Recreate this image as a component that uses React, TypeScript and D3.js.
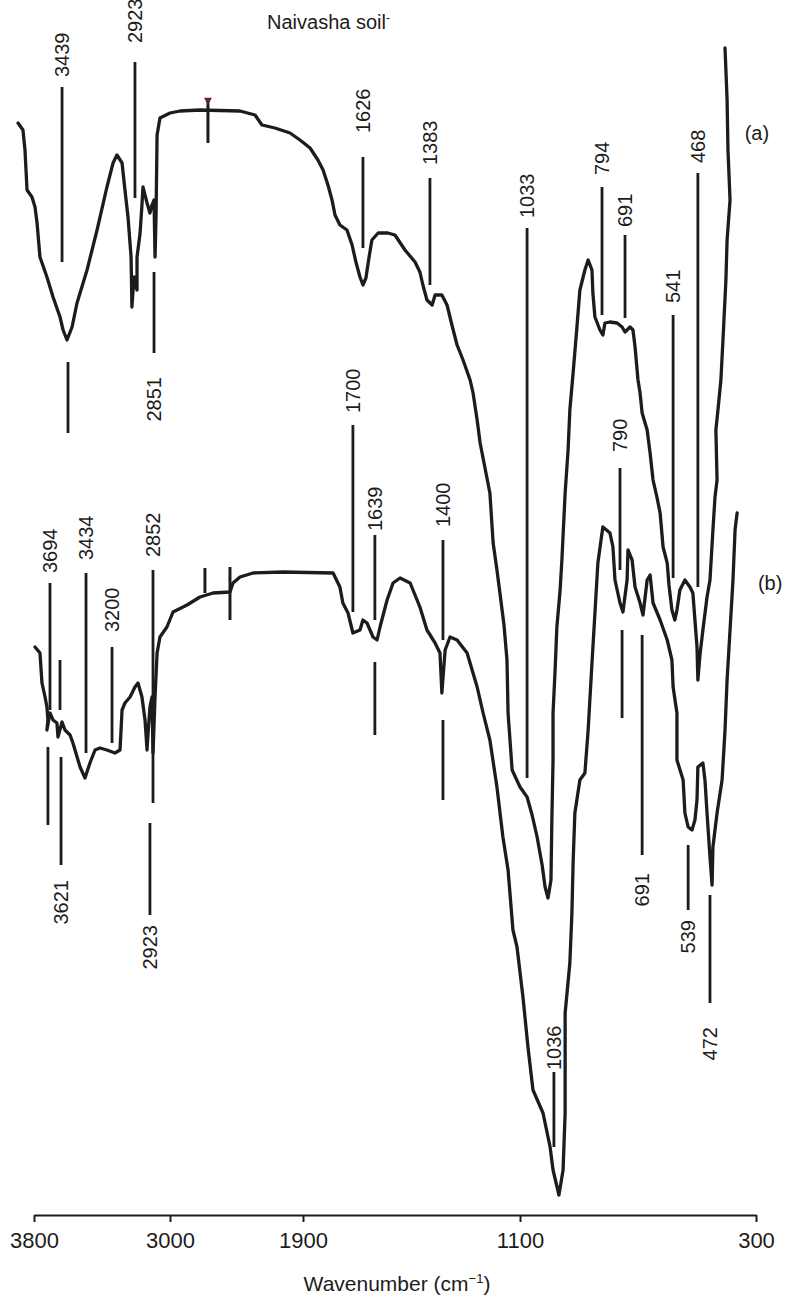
import React, { useEffect, useRef } from 'react';
import * as d3 from 'd3';

type Pt = [number, number];
type Marker = { wn: number; from: number; to: number; label?: string; text?: number };

// wavenumber ticks printed on the axis (the printed scale is uneven)
const wnTicks = [3800, 3000, 1900, 1100, 300];

// trace (a): [wavenumber on the axis, relative transmittance]
const traceA: Pt[] = [
  [3894, 109.2], [3865, 108.5], [3853, 106.5], [3841, 102.5], [3812, 101.8], [3794, 100.8],
  [3782, 99.2], [3765, 95.8], [3724, 93.8], [3688, 91.8], [3647, 89.8], [3629, 88.5],
  [3606, 87.5], [3576, 88.8], [3547, 91.2], [3488, 94.5], [3429, 98.5], [3371, 102.8],
  [3335, 105.2], [3312, 106.0], [3282, 105.2], [3265, 102.5], [3247, 99.8], [3229, 95.8],
  [3224, 90.8], [3212, 93.8], [3194, 92.5], [3194, 95.8], [3176, 98.2], [3165, 101.0],
  [3159, 102.8], [3147, 102.0], [3135, 101.2], [3118, 100.2], [3106, 101.0], [3094, 101.5],
  [3088, 95.8], [3082, 100.0], [3076, 108.0], [3059, 109.7], [3000, 110.2], [2917, 110.4],
  [2752, 110.5], [2421, 110.4], [2297, 110.0], [2239, 109.0], [2132, 108.7], [2007, 108.2],
  [1925, 107.5], [1874, 106.7], [1845, 105.5], [1826, 104.5], [1808, 103.0], [1793, 101.5],
  [1782, 100.0], [1764, 99.0], [1738, 98.5], [1719, 97.0], [1705, 95.3], [1690, 93.8],
  [1679, 93.0], [1668, 93.7], [1657, 95.7], [1646, 97.5], [1623, 98.2], [1587, 98.2],
  [1561, 98.0], [1524, 96.5], [1487, 95.3], [1469, 94.3], [1458, 93.0], [1443, 91.5],
  [1424, 91.0], [1413, 92.0], [1388, 92.0], [1369, 91.0], [1351, 89.0], [1332, 87.0],
  [1310, 85.5], [1284, 83.5], [1273, 82.2], [1258, 79.5], [1247, 77.2], [1229, 74.7],
  [1211, 72.2], [1199, 67.2], [1185, 64.5], [1174, 62.2], [1159, 59.0], [1148, 55.5],
  [1144, 50.2], [1129, 44.5], [1100, 42.8], [1076, 41.8], [1059, 40.0], [1042, 37.8],
  [1025, 35.0], [1015, 32.8], [1005, 31.7], [995, 33.5], [992, 39.5], [988, 45.5],
  [988, 50.2], [981, 54.5], [975, 58.8], [964, 62.5], [958, 65.5], [947, 72.2],
  [937, 76.5], [931, 80.5], [920, 84.2], [907, 88.8], [897, 92.5], [880, 94.5],
  [869, 95.5], [856, 94.5], [853, 92.2], [846, 89.8], [829, 88.5], [819, 88.0],
  [812, 89.2], [795, 89.3], [771, 89.2], [754, 88.8], [744, 88.3], [727, 88.8],
  [717, 88.5], [710, 86.8], [700, 83.5], [693, 82.2], [686, 80.2], [669, 78.5],
  [659, 76.2], [649, 73.5], [636, 71.8], [625, 70.2], [615, 66.8], [601, 65.2],
  [595, 63.0], [585, 60.5], [575, 59.5], [568, 60.5], [558, 62.5], [541, 63.5],
  [524, 62.8], [514, 62.2], [507, 59.5], [500, 56.8], [497, 53.5], [490, 56.0],
  [480, 58.5], [466, 61.8], [456, 63.5], [446, 68.5], [439, 71.8], [432, 73.5],
  [436, 78.5], [429, 80.5], [419, 83.5], [412, 87.5], [402, 93.5], [398, 97.5],
  [388, 101.5], [395, 106.5], [398, 111.5], [405, 116.7],
];

// trace (b)
const traceB: Pt[] = [
  [3794, 56.8], [3765, 56.2], [3753, 53.2], [3735, 51.8], [3724, 50.8], [3718, 49.5],
  [3724, 48.5], [3706, 50.2], [3688, 49.5], [3665, 49.2], [3659, 47.8], [3635, 49.3],
  [3618, 48.5], [3588, 48.0], [3571, 47.2], [3529, 44.8], [3500, 43.7], [3471, 45.2],
  [3441, 46.5], [3412, 46.7], [3371, 46.5], [3324, 46.2], [3294, 46.5], [3282, 50.5],
  [3265, 51.2], [3235, 51.8], [3206, 52.8], [3188, 53.2], [3165, 51.8], [3147, 49.5],
  [3135, 46.5], [3129, 48.2], [3118, 50.8], [3106, 51.8], [3100, 46.2], [3088, 51.8],
  [3076, 56.2], [3059, 57.8], [3018, 58.8], [2975, 60.3], [2859, 61.0], [2752, 61.8],
  [2644, 62.2], [2504, 62.3], [2479, 63.2], [2421, 63.8], [2313, 64.2], [2065, 64.3],
  [1789, 64.2], [1764, 62.8], [1753, 61.2], [1734, 60.2], [1716, 58.2], [1690, 58.5],
  [1679, 59.5], [1664, 59.2], [1642, 57.8], [1627, 57.5], [1616, 58.8], [1590, 61.5],
  [1568, 63.2], [1542, 63.7], [1505, 63.2], [1469, 60.8], [1443, 58.5], [1413, 57.2],
  [1395, 56.2], [1388, 52.2], [1376, 56.5], [1358, 57.8], [1332, 57.5], [1295, 56.2],
  [1258, 52.8], [1236, 50.2], [1211, 47.5], [1185, 42.8], [1163, 37.8], [1144, 34.5],
  [1126, 28.5], [1111, 26.8], [1090, 21.8], [1073, 16.8], [1056, 12.5], [1022, 10.2],
  [998, 6.8], [988, 4.5], [968, 2.0], [954, 4.5], [947, 10.2], [947, 20.2],
  [931, 25.2], [924, 30.2], [920, 35.2], [914, 40.2], [897, 43.5], [880, 44.2],
  [869, 48.5], [856, 55.2], [846, 60.2], [836, 65.2], [822, 68.2], [819, 68.8],
  [795, 68.2], [785, 66.8], [778, 63.5], [761, 61.2], [751, 60.3], [737, 63.5],
  [734, 66.5], [720, 65.5], [710, 62.8], [693, 61.2], [683, 60.0], [669, 63.5],
  [659, 64.0], [649, 61.2], [625, 59.5], [601, 57.5], [585, 55.5], [581, 52.8],
  [568, 50.2], [568, 45.5], [547, 43.5], [541, 40.2], [530, 38.8], [517, 38.5],
  [507, 39.5], [500, 41.5], [497, 44.8], [480, 45.2], [473, 43.5], [466, 40.2],
  [456, 35.8], [449, 33.0], [446, 36.8], [432, 40.2], [415, 43.5], [405, 48.5],
  [398, 53.5], [388, 58.5], [378, 63.5], [371, 68.5], [364, 70.2],
];

// peak markers: bar from/to (transmittance), label end at `text`
const markersA: Marker[] = [
  { label: '3439', wn: 3635, from: 95.3, to: 112.8, text: 113.8 },
  { wn: 3600, from: 78.2, to: 85.3 },
  { label: '2923', wn: 3206, from: 101.7, to: 115.3, text: 117.2 },
  { label: '2851', wn: 3094, from: 86.2, to: 94.3, text: 83.8 },
  { label: '1626', wn: 1679, from: 96.7, to: 105.8, text: 108.2 },
  { label: '1383', wn: 1432, from: 93.0, to: 103.7, text: 105.0 },
  { label: '1033', wn: 1076, from: 43.7, to: 98.7, text: 99.7 },
  { label: '794', wn: 822, from: 90.0, to: 102.8, text: 104.0 },
  { label: '691', wn: 744, from: 89.7, to: 98.0, text: 98.8 },
  { label: '541', wn: 581, from: 63.7, to: 90.0, text: 91.2 },
  { label: '468', wn: 497, from: 62.8, to: 104.2, text: 105.2 },
];

const markersB: Marker[] = [
  { label: '3694', wn: 3706, from: 50.5, to: 63.2, text: 64.2 },
  { wn: 3718, from: 39.0, to: 46.8 },
  { wn: 3647, from: 50.5, to: 55.5 },
  { label: '3621', wn: 3641, from: 35.0, to: 45.8, text: 33.5 },
  { label: '3434', wn: 3494, from: 46.2, to: 64.2, text: 65.5 },
  { label: '3200', wn: 3341, from: 47.2, to: 56.8, text: 58.3 },
  { label: '2852', wn: 3100, from: 41.2, to: 64.5, text: 65.8 },
  { label: '2923', wn: 3118, from: 30.0, to: 39.2, text: 29.0 },
  { label: '1700', wn: 1716, from: 60.3, to: 79.0, text: 80.2 },
  { label: '1639', wn: 1635, from: 59.5, to: 68.0, text: 68.4 },
  { wn: 1635, from: 48.0, to: 55.3 },
  { label: '1400', wn: 1384, from: 57.5, to: 67.5, text: 68.8 },
  { wn: 1384, from: 41.5, to: 49.5 },
  { label: '1036', wn: 985, from: 6.8, to: 14.3, text: 14.5 },
  { label: '790', wn: 761, from: 64.5, to: 74.7, text: 76.3 },
  { wn: 754, from: 49.7, to: 58.5 },
  { label: '691', wn: 686, from: 36.0, to: 58.0, text: 34.2 },
  { label: '539', wn: 530, from: 30.5, to: 37.0, text: 29.5 },
  { label: '472', wn: 456, from: 21.2, to: 32.0, text: 18.8 },
];

// small recorder pen marks on the traces
const penMarksA = [{ wn: 2686, from: 107.2, to: 111.7 }];
const penMarksB = [
  { wn: 2711, from: 62.2, to: 64.7 },
  { wn: 2504, from: 59.5, to: 64.8 },
];

const seriesNames = ['(a)', '(b)'];
const seriesTags: Pt[] = [[297, 108.2], [252, 63.2]];

export default function App() {
  const svgRef = useRef<SVGSVGElement>(null);

  const width = 785;
  const height = 1303;
  const font = "'Liberation Sans', Arial, Helvetica, sans-serif";
  const ink = '#1c1c1c';

  const x = d3.scaleLinear().domain(wnTicks).range([34, 170, 303, 520, 756]);
  const y = d3.scaleLinear().domain([0, 118]).range([1215, 35]);

  useEffect(() => {
    const svg = d3.select(svgRef.current);
    svg.selectAll('*').remove();

    svg.append('rect').attr('width', width).attr('height', height).attr('fill', '#fff');

    // title
    const title = svg
      .append('text')
      .attr('x', 267)
      .attr('y', 29)
      .attr('font-size', 20)
      .attr('fill', ink)
      .text('Naivasha soil');
    title.append('tspan').attr('dy', -7).attr('font-size', 12).text('-');

    // x axis
    const axis = svg
      .append('g')
      .attr('transform', `translate(0, ${y(0)})`)
      .call(d3.axisBottom(x).tickValues(wnTicks).tickSize(7).tickSizeOuter(0).tickPadding(10).tickFormat(d3.format('d')));
    axis.select('.domain').attr('stroke', ink).attr('stroke-width', 2);
    axis.selectAll('.tick line').attr('stroke', ink).attr('stroke-width', 2);
    axis.selectAll('.tick text').attr('font-size', 22).attr('font-family', font).attr('fill', ink);

    const xt = svg
      .append('text')
      .attr('x', 397)
      .attr('y', 1291)
      .attr('text-anchor', 'middle')
      .attr('font-size', 21)
      .attr('fill', ink)
      .text('Wavenumber (cm');
    xt.append('tspan').attr('dy', -8).attr('font-size', 13).text('\u22121');
    xt.append('tspan').attr('dy', 8).text(')');

    const line = d3
      .line<Pt>()
      .x((d) => x(d[0]))
      .y((d) => y(d[1]));

    [traceA, traceB].forEach((trace) => {
      svg
        .append('path')
        .datum(trace)
        .attr('d', line)
        .attr('fill', 'none')
        .attr('stroke', ink)
        .attr('stroke-width', 3.3)
        .attr('stroke-linejoin', 'round')
        .attr('stroke-linecap', 'round');
    });

    [markersA, markersB].forEach((markers) => {
      const g = svg.append('g');
      g.selectAll('line')
        .data(markers)
        .enter()
        .append('line')
        .attr('x1', (d) => x(d.wn))
        .attr('x2', (d) => x(d.wn))
        .attr('y1', (d) => y(d.to))
        .attr('y2', (d) => y(d.from))
        .attr('stroke', ink)
        .attr('stroke-width', 2.8);

      g.selectAll('text')
        .data(markers.filter((d) => d.label))
        .enter()
        .append('text')
        .attr('transform', (d) => `translate(${x(d.wn)}, ${y(d.text as number)}) rotate(-90)`)
        .attr('text-anchor', (d) => ((d.text as number) > d.to ? 'start' : 'end'))
        .attr('dominant-baseline', 'central')
        .attr('font-size', 20)
        .attr('fill', ink)
        .text((d) => d.label as string);
    });

    [penMarksA, penMarksB].forEach((marks) => {
      svg
        .append('g')
        .selectAll('line')
        .data(marks)
        .enter()
        .append('line')
        .attr('x1', (d) => x(d.wn))
        .attr('x2', (d) => x(d.wn))
        .attr('y1', (d) => y(d.to))
        .attr('y2', (d) => y(d.from))
        .attr('stroke', ink)
        .attr('stroke-width', 3);
    });

    svg
      .append('path')
      .attr('d', d3.symbol(d3.symbolTriangle, 28)())
      .attr('transform', `translate(${x(penMarksA[0].wn)}, ${y(penMarksA[0].to) + 2}) rotate(180)`)
      .attr('fill', '#5a2a2a');

    svg
      .append('g')
      .selectAll('text')
      .data(seriesNames)
      .enter()
      .append('text')
      .attr('x', (d, i) => x(seriesTags[i][0]))
      .attr('y', (d, i) => y(seriesTags[i][1]))
      .attr('text-anchor', 'middle')
      .attr('dominant-baseline', 'central')
      .attr('font-size', 20)
      .attr('fill', ink)
      .text((d) => d);
  }, []);

  return (
    <svg
      ref={svgRef}
      width={width}
      height={height}
      fontFamily={font}
      style={{ position: 'absolute', left: 0, top: 0, display: 'block' }}
    />
  );
}
